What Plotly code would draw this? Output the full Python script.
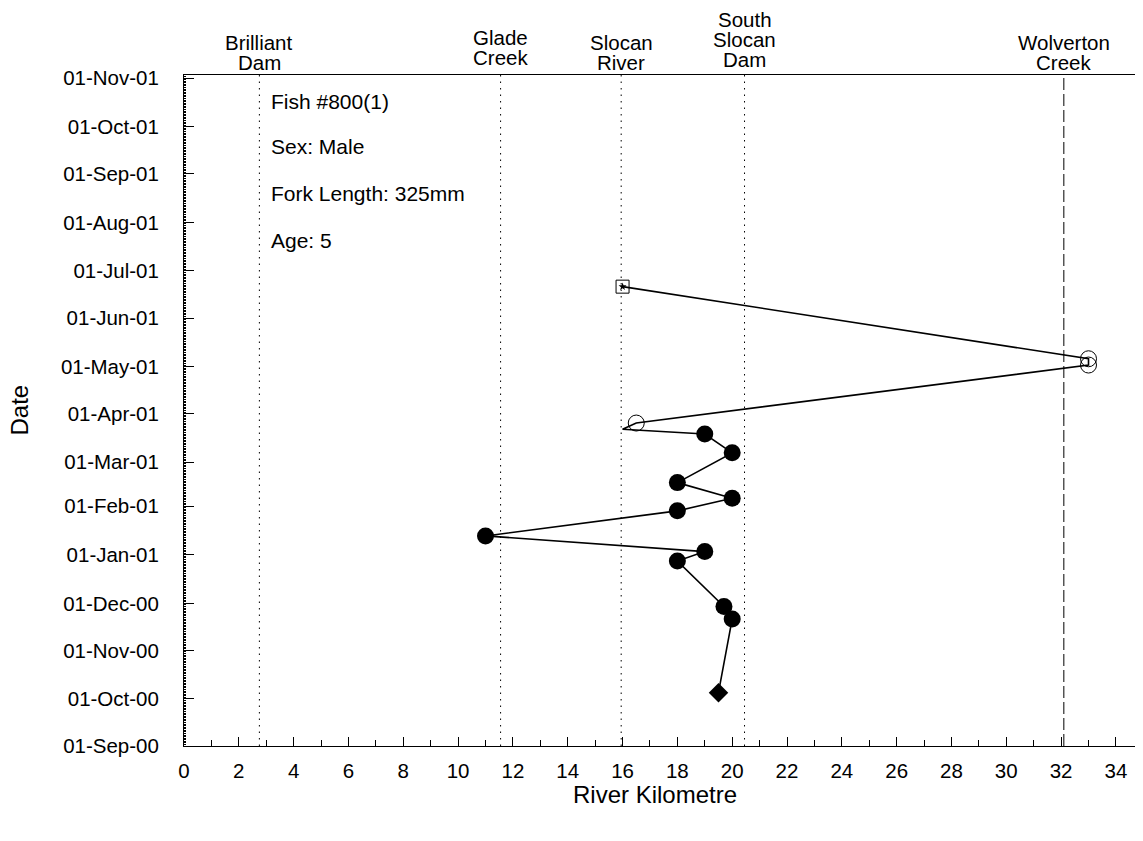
import plotly.graph_objects as go

# ---- data ----
path_km = [19.5, 20.0, 19.7, 18.0, 19.0, 11.0, 18.0, 20.0, 18.0, 20.0, 19.0, 16.0, 16.5, 33.0, 33.0, 16.0]
path_date = ["2000-10-05", "2000-11-21", "2000-11-29", "2000-12-28", "2001-01-03", "2001-01-13",
             "2001-01-29", "2001-02-06", "2001-02-16", "2001-03-07", "2001-03-19", "2001-03-22",
             "2001-03-26", "2001-05-02", "2001-05-06", "2001-06-21"]

filled_km = [20.0, 19.7, 18.0, 19.0, 11.0, 18.0, 20.0, 18.0, 20.0, 19.0]
filled_date = ["2000-11-21", "2000-11-29", "2000-12-28", "2001-01-03", "2001-01-13",
               "2001-01-29", "2001-02-06", "2001-02-16", "2001-03-07", "2001-03-19"]

open_km = [16.5, 33.0, 33.0]
open_date = ["2001-03-26", "2001-05-02", "2001-05-06"]

release_km = [19.5]
release_date = ["2000-10-05"]

last_km = [16.0]
last_date = ["2001-06-21"]

site_km = [2.75, 11.55, 15.95, 20.45, 32.1]
site_lines = [["Brilliant", "Dam"], ["Glade", "Creek"], ["Slocan", "River"],
              ["South", "Slocan", "Dam"], ["Wolverton", "Creek"]]
site_raise = [0, 5, 0, 3, 0]
site_dash = ["1.5px,5px", "1.5px,5px", "1.5px,5px", "1.5px,5px", "12px,4px"]

fish_info = ["Fish #800(1)", "Sex: Male", "Fork Length: 325mm", "Age: 5"]

FONT = "Arial, Liberation Sans, sans-serif"

fig = go.Figure()
fig.add_trace(go.Scatter(x=path_km, y=path_date, mode="lines",
                         line=dict(color="black", width=1.6), showlegend=False, hoverinfo="skip"))
fig.add_trace(go.Scatter(x=filled_km, y=filled_date, mode="markers",
                         marker=dict(symbol="circle", size=17, color="black"), showlegend=False))
fig.add_trace(go.Scatter(x=open_km, y=open_date, mode="markers",
                         marker=dict(symbol="circle-open", size=16, color="black", line=dict(width=1)),
                         showlegend=False))
fig.add_trace(go.Scatter(x=release_km, y=release_date, mode="markers",
                         marker=dict(symbol="diamond", size=15, color="black"), showlegend=False))
fig.add_trace(go.Scatter(x=last_km, y=last_date, mode="markers",
                         marker=dict(symbol="square-open", size=13, color="black", line=dict(width=1)),
                         showlegend=False))
fig.add_trace(go.Scatter(x=last_km, y=last_date, mode="markers",
                         marker=dict(symbol="star", size=6, color="black"), showlegend=False))

shapes = []
annotations = []
for km, lines, dash, up in zip(site_km, site_lines, site_dash, site_raise):
    shapes.append(dict(type="line", xref="x", yref="paper", x0=km, x1=km, y0=0, y1=1,
                       line=dict(color="black", width=1, dash=dash)))
    n = len(lines)
    for i, t in enumerate(lines):
        shift = 13 + (n - 1 - i) * 20 + up
        annotations.append(dict(x=km, xref="x", y=1, yref="paper", yshift=shift,
                                text=t, showarrow=False, xanchor="center", yanchor="middle",
                                font=dict(family=FONT, size=20.5, color="black")))

info_y = [0.960, 0.893, 0.823, 0.753]
for t, yy in zip(fish_info, info_y):
    annotations.append(dict(x=3.1, xref="x", y=yy, yref="paper", text=t, showarrow=False,
                            xanchor="left", yanchor="middle",
                            font=dict(family=FONT, size=21, color="black")))

annotations.append(dict(x=0.487, xref="paper", y=-0.073, yref="paper", text="River Kilometre",
                        showarrow=False, xanchor="center", yanchor="middle",
                        font=dict(family=FONT, size=24, color="black")))
annotations.append(dict(x=0, xref="paper", xshift=-165, y=0.5, yref="paper", text="Date",
                        showarrow=False, xanchor="center", yanchor="middle", textangle=-90,
                        font=dict(family=FONT, size=24, color="black")))

fig.update_layout(
    width=1143, height=841,
    margin=dict(l=176, r=0, t=67, b=103),
    plot_bgcolor="white", paper_bgcolor="white",
    font=dict(family=FONT, size=20.5, color="black"),
    shapes=shapes, annotations=annotations,
    xaxis=dict(range=[0, 35.28], tick0=0, dtick=2, ticks="inside", ticklen=9, tickwidth=1,
               tickcolor="black", showline=True, linecolor="black", linewidth=1, mirror=True,
               showgrid=False, zeroline=False, tickfont=dict(size=20.5), ticklabelstandoff=6,
               minor=dict(dtick=1, ticks="inside", ticklen=6, tickcolor="black", tickwidth=1,
                          showgrid=False)),
    yaxis=dict(type="date", range=["2000-09-01", "2001-11-03"], tick0="2000-09-01", dtick="M1",
               tickformat="%d-%b-%y", ticks="inside", ticklen=10, tickwidth=1, tickcolor="black",
               showline=True, linecolor="black", linewidth=1, showgrid=False, zeroline=False,
               tickfont=dict(size=20.5), ticklabelstandoff=20,
               minor=dict(dtick=86400000, ticks="inside", ticklen=2, tickcolor="black",
                          tickwidth=1, showgrid=False)),
)

fig.write_html("out.html")
